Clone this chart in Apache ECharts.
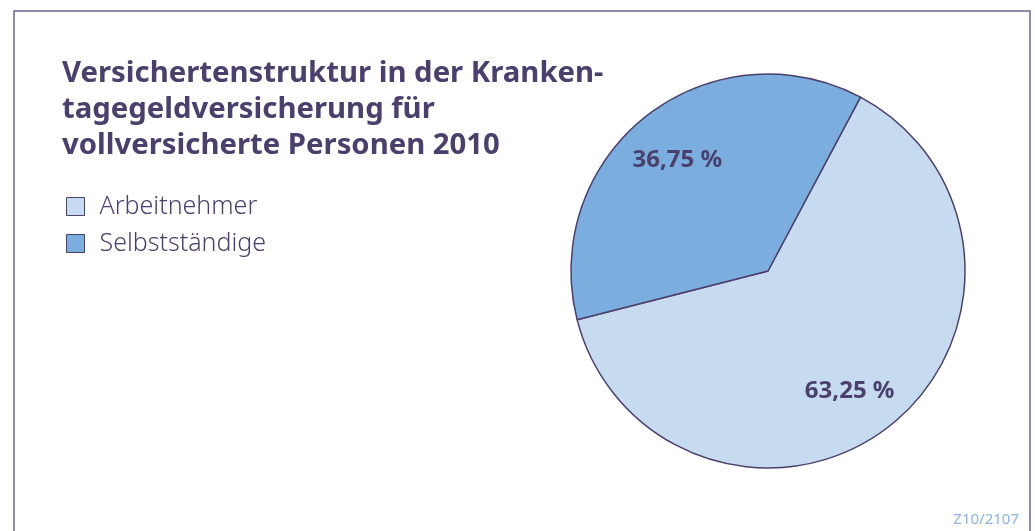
<!DOCTYPE html>
<html>
<head>
<meta charset="utf-8">
<script src="https://cdn.jsdelivr.net/npm/echarts@6/dist/echarts.min.js"></script>
<style>
html, body { margin: 0; padding: 0; background: #fff; }
#main { width: 1035px; height: 531px; }
</style>
</head>
<body>
<div id="main"></div>
<script>
var categories = ['Arbeitnehmer', 'Selbstständige'];
var shares = [63.25, 36.75];
var shareLabels = ['63,25 %', '36,75 %'];
var colors = ['#c6daf0', '#7badde'];

var dom = document.getElementById('main');
var chart = echarts.init(dom);

var pieData = categories.map(function (name, i) {
    return { name: name, value: shares[i], itemStyle: { color: colors[i] } };
});

// label offsets nudge the percentages to where the original puts them
var labelOffsets = [[0, 0], [-9, 10]];

var option = {
    animation: false,
    title: {
        text: 'Versichertenstruktur in der Kranken-\ntagegeldversicherung für\nvollversicherte Personen 2010',
        left: 57,
        top: 51,
        textStyle: {
            fontFamily: 'Noto Sans',
            fontSize: 29.3,
            fontWeight: 'bold',
            color: '#4b3f6b',
            lineHeight: 36
        }
    },
    legend: {
        orient: 'vertical',
        left: 61,
        top: 189,
        itemWidth: 18,
        itemHeight: 18,
        itemGap: 12,
        icon: 'rect',
        data: categories,
        itemStyle: { borderColor: '#4b3f6b', borderWidth: 1 },
        textStyle: {
            fontFamily: 'Noto Sans',
            fontSize: 25,
            fontWeight: 300,
            color: '#4b3f6b',
            padding: [0, 0, 0, 10]
        }
    },
    graphic: [
        {
            type: 'rect',
            shape: { x: 14, y: 11, width: 1016, height: 540 },
            style: { fill: null, stroke: '#6d6490', lineWidth: 1.5 }
        },
        {
            type: 'text',
            right: 16,
            bottom: 4,
            style: {
                text: 'Z10/2107',
                font: '15px "Noto Sans"',
                fill: '#8ab4de'
            }
        }
    ],
    series: [
        {
            type: 'pie',
            center: [768, 271],
            radius: [0, 197],
            startAngle: 62,
            clockwise: true,
            silent: true,
            label: { show: false },
            labelLine: { show: false },
            itemStyle: { borderColor: '#4b3f6b', borderWidth: 1.5 },
            data: pieData
        },
        {
            type: 'pie',
            center: [768, 271],
            radius: [88, 197],
            startAngle: 58,
            clockwise: true,
            silent: true,
            itemStyle: { color: 'transparent' },
            label: {
                show: true,
                position: 'inside',
                formatter: function (p) { return shareLabels[p.dataIndex]; },
                fontFamily: 'Noto Sans',
                fontSize: 24,
                fontWeight: 'bold',
                color: '#4b3f6b'
            },
            labelLine: { show: false },
            data: categories.map(function (name, i) {
                return { name: name, value: shares[i], label: { offset: labelOffsets[i] } };
            })
        }
    ]
};

chart.setOption(option);
</script>
</body>
</html>
